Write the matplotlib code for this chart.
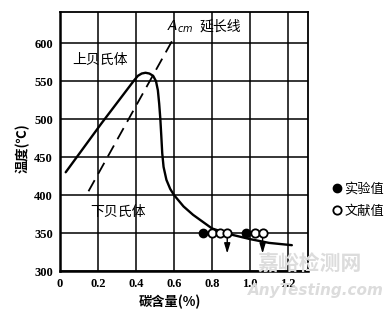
import matplotlib
matplotlib.use("Agg")
import matplotlib.pyplot as plt
from matplotlib.lines import Line2D

plt.rcParams['font.family'] = ['Noto Sans CJK SC', 'DejaVu Sans']

# ---- data ----
# bainite transformation boundary (solid curve)
curve_x = [0.03, 0.22, 0.39, 0.41, 0.43, 0.45, 0.47, 0.49, 0.505, 0.515, 0.522, 0.528, 0.533, 0.538,
           0.545, 0.56, 0.58, 0.60, 0.65, 0.70, 0.80, 0.90, 1.00, 1.10, 1.22]
curve_y = [430, 495, 551, 557, 560, 561, 560, 557, 550, 538, 520, 500, 478, 455,
           437, 420, 408, 400, 385, 374, 356, 348, 342, 337, 334]
# Acm extension line (dashed)
acm_x = [0.15, 0.59]
acm_y = [405, 603]
# experimental values (filled) and literature values (open)
exp_x = [0.755, 0.977]
exp_y = [350, 350]
lit_x = [0.80, 0.842, 0.88, 1.026, 1.066]
lit_y = [350, 350, 350, 350, 350]
# downward arrows (upper bound indications)
arrow_x = [0.88, 1.066]
arrow_from = [350, 350]
arrow_to = [323, 323]

xticks = [0, 0.2, 0.4, 0.6, 0.8, 1.0, 1.2]
xticklabels = ['0', '0.2', '0.4', '0.6', '0.8', '1.0', '1.2']
yticks = [300, 350, 400, 450, 500, 550, 600]
yticklabels = ['300', '350', '400', '450', '500', '550', '600']

fig = plt.figure(figsize=(3.92, 3.14), dpi=100)
ax = fig.add_axes([60/392, 1-271/314, 248/392, 259/314])
ax.set_xlim(0, 1.305)
ax.set_ylim(300, 641)

ax.set_xticks(xticks)
ax.set_xticklabels(xticklabels)
ax.set_yticks(yticks)
ax.set_yticklabels(yticklabels)
for lab in ax.get_xticklabels() + ax.get_yticklabels():
    lab.set_fontfamily('Liberation Serif')
    lab.set_fontweight('bold')
    lab.set_fontsize(9)
ax.tick_params(length=0, pad=5)
ax.grid(True, color='black', lw=1.1)
ax.set_axisbelow(True)

ax.plot(curve_x, curve_y, color='black', lw=1.7, zorder=3, solid_capstyle='round')
ax.plot(acm_x, acm_y, color='black', lw=1.3, ls=(0, (7, 4)), zorder=3)

for x, y0, y1 in zip(arrow_x, arrow_from, arrow_to):
    ax.annotate('', xy=(x, y1), xytext=(x, y0),
                arrowprops=dict(arrowstyle='-|>,head_width=0.18,head_length=0.6',
                                color='black', lw=1.0, shrinkA=3, shrinkB=0), zorder=4)

ax.plot(exp_x, exp_y, 'o', color='black', ms=6, zorder=5)
ax.plot(lit_x, lit_y, 'o', mfc='white', mec='black', mew=1.3, ms=6, zorder=5)

for s in ax.spines.values():
    s.set_linewidth(1.3)
ax.spines['left'].set_linewidth(1.8)
ax.spines['bottom'].set_linewidth(1.8)

ax.text(0.21, 578, '上贝氏体', fontsize=10, ha='center', va='center', fontweight='medium')
ax.text(0.305, 378, '下贝氏体', fontsize=10, ha='center', va='center', fontweight='medium')
ax.text(0.565, 621, '$A_{cm}$', fontsize=10, ha='left', va='center', family='DejaVu Serif')
ax.text(0.735, 622, '延长线', fontsize=10, ha='left', va='center', fontweight='medium')

fig.text(23/392, 1-148/314, '温度(℃)', rotation=90, fontsize=9.5, ha='center', va='center',
         fontweight='bold')
fig.text(170/392, 1-302/314, '碳含量(%)', fontsize=9.5, ha='center', va='center',
         fontweight='bold')

handles = [Line2D([], [], ls='', marker='o', color='black', ms=6),
           Line2D([], [], ls='', marker='o', mfc='white', mec='black', mew=1.3, ms=6)]
fig.legend(handles, ['实验值', '文献值'], loc='center left',
           bbox_to_anchor=(326/392, 1-200/314), frameon=False, fontsize=9.5,
           handlelength=0.6, handletextpad=0.3, labelspacing=0.7, borderpad=0)

fig.text(310/392, 1-263/314, '嘉峪检测网', fontsize=15, ha='center', va='center',
         color='#dcdcdc', fontweight='bold', zorder=0)
fig.text(316/392, 1-290/314, 'AnyTesting.com', fontsize=11, ha='center', va='center',
         color='#dcdcdc', style='italic', fontweight='bold', family='DejaVu Sans', zorder=0)

fig.savefig('out.png', dpi=100)
